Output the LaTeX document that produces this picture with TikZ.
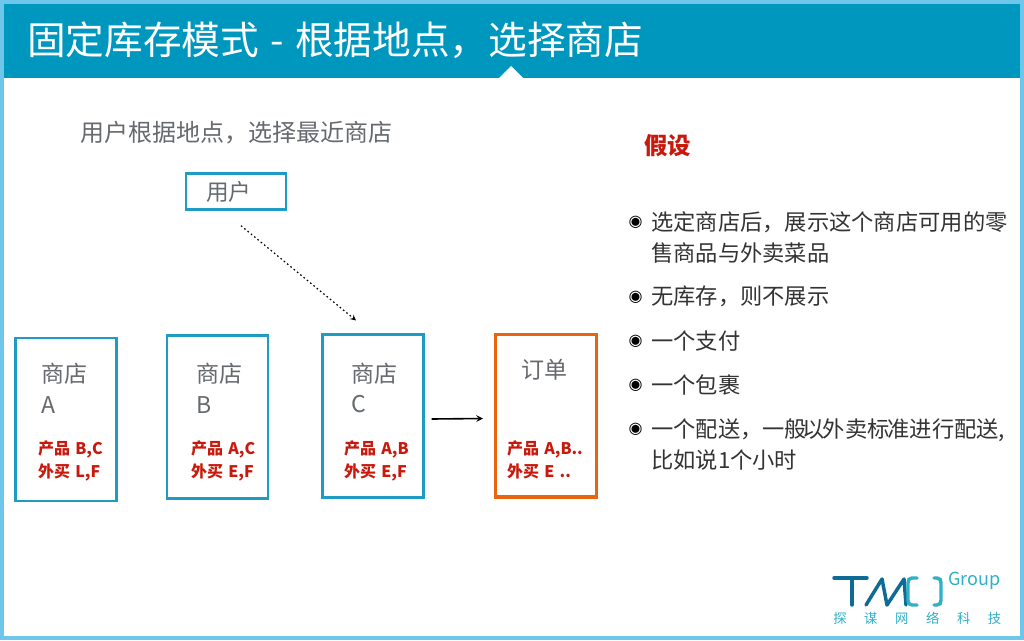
\documentclass[tikz,border=0pt]{standalone}
\usepackage{fontspec}
\setmainfont{Noto Sans CJK SC}
\newfontfamily\bulletfont{DejaVu Sans}
\usepackage{tikz}
\usetikzlibrary{arrows}
\definecolor{framecol}{HTML}{6EC6EA}
\definecolor{bandcol}{HTML}{0097BF}
\definecolor{boxcol}{HTML}{1E9CC3}
\definecolor{ordercol}{HTML}{E8640F}
\definecolor{redcol}{HTML}{C8190C}
\definecolor{textcol}{HTML}{666A6E}
\definecolor{logodark}{HTML}{0F6A94}
\definecolor{logolight}{HTML}{2FB0C8}
\tikzstyle{title} = [anchor=west, inner sep=0pt, text=white, font=\fontsize{29}{30}\selectfont]
\tikzstyle{caption} = [anchor=west, inner sep=0pt, text=textcol, font=\fontsize{18}{22}\selectfont]
\tikzstyle{userbox} = [rectangle, draw=boxcol, line width=1.8pt, text width=45pt, align=left, inner xsep=15pt, minimum height=27pt, inner ysep=0pt, text=textcol, font=\fontsize{17}{20}\selectfont]
\tikzstyle{storebox} = [rectangle, draw=boxcol, line width=1.8pt, minimum width=75.5pt, minimum height=122pt]
\tikzstyle{orderbox} = [rectangle, draw=ordercol, line width=2.5pt, minimum width=75.5pt, minimum height=122pt]
\tikzstyle{storename} = [text width=45pt, align=left, inner sep=0pt, text=textcol, font=\fontsize{17.3}{23}\selectfont]
\tikzstyle{goods} = [text width=52.5pt, align=left, inner sep=0pt, text=redcol, font=\bfseries\fontsize{12}{17.5}\selectfont, node distance=54.75pt]
\tikzstyle{heading} = [anchor=west, inner sep=0pt, text=redcol, font=\bfseries\fontsize{17.6}{20}\selectfont]
\tikzstyle{item} = [anchor=north west, align=left, inner sep=0pt, text=black!80, font=\fontsize{16.7}{23.25}\selectfont]
\tikzstyle{dot} = [inner sep=0pt, text=black, font=\bulletfont\fontsize{12}{12}\selectfont]
\tikzstyle{arrow} = [line width=1.2pt,->,>=stealth]
\begin{document}
\begin{tikzpicture}[x=0.75pt, y=-0.75pt]
\useasboundingbox (0,0) rectangle (1024,640);
\fill [framecol] (0,0) rectangle (1024,640);
\fill [white] (4,4) rectangle (1020,636);
\fill [bandcol] (4,4) rectangle (1020,78);
\fill [white] (498,79) -- (511,66) -- (524,79) -- cycle;

\node (title) [title] at (27,40)
	{固定库存模式\hspace{2pt} - \hspace{2pt}根据地点，选择商店};
\node (caption) [caption] at (80,133)
	{用户根据地点，选择最近商店};
\node (user) [userbox] at (236,191.5)
	{用户};

\node (storeA) [storebox] at (66,419.5) {};
\node (storeB) [storebox] at (217.5,417) {};
\node (storeC) [storebox] at (373,416) {};
\node (order) [orderbox] at (546,415.5) {};

\node (nameA) [storename] at (71,388)
	{商店\\A};
\node (nameB) [storename] at (226,388)
	{商店\\B};
\node (nameC) [storename] at (381,388)
	{商店\\C};
\node (nameO) [storename] at (551,370)
	{订单};

\node (goodsA) [goods, below of=nameA, xshift=1.5pt]
	{产品 B,C\\外买 L,F};
\node (goodsB) [goods, below of=nameB]
	{产品 A,C\\外买 E,F};
\node (goodsC) [goods, below of=nameC, xshift=-1.5pt]
	{产品 A,B\\外买 E,F};
\node (goodsO) [goods, below of=nameO, node distance=67.5pt, text width=62pt, xshift=-2pt]
	{产品 A,B..\\外买 E ..};

\draw [arrow, dotted, line width=0.9pt] ([shift={(5,15)}]user.south) -- ([shift={(-17,-13)}]storeC.north);
\draw [arrow] ([shift={(7,3)}]storeC.east) -- ([shift={(-11,3)}]order.west);

\node (assume) [heading] at (644,146)
	{假设};
\node (item1) [item] at (651,211)
	{选定商店后，展示这个商店可用的零\\售商品与外卖菜品};
\node (item2) [item] at (651,286)
	{无库存，则不展示};
\node (item3) [item] at (651,330)
	{一个支付};
\node (item4) [item] at (651,374)
	{一个包裹};
\node (item5) [item] at (651,418)
	{一个配送，一般\hspace{-3.5pt}以\hspace{-1.5pt}外卖标\hspace{-1.5pt}准进行配送,\\比如说1个小时};
\node (dot1) [dot] at (635.5,222.5) {◉};
\node (dot2) [dot] at (635.5,297.5) {◉};
\node (dot3) [dot] at (635.5,341.5) {◉};
\node (dot4) [dot] at (635.5,385.5) {◉};
\node (dot5) [dot] at (635.5,429.5) {◉};

% logo
\draw [logodark, line width=2.6pt, line cap=round, line join=round] (834,578) -- (867,578) (852,578) -- (852,605);
\draw [logodark, line width=2.6pt, line cap=round, line join=round] (866,605) -- (882,579) -- (887,605) -- (904,579) -- (906,605);
\draw [logolight, line width=2.6pt, line cap=round] (917,578) -- (912,578) .. controls (909,578) and (908,580) .. (908,583) -- (908,600) .. controls (908,603) and (909,605) .. (912,605) -- (917,605);
\draw [logolight, line width=2.6pt, line cap=round] (934,578) -- (937,578) .. controls (940,578) and (941,580) .. (941,583) -- (941,600) .. controls (941,603) and (940,605) .. (937,605) -- (934,605);
\node (group) [anchor=west, inner sep=0pt, text=logolight, font=\fontsize{13.5}{14}\selectfont] at (948,581)
	{Group};
\node (company) [anchor=west, inner sep=0pt, text width=126pt, text=logolight, font=\fontsize{10}{11}\selectfont] at (833,618)
	{探\hfill 谋\hfill 网\hfill 络\hfill 科\hfill 技};
\end{tikzpicture}
\end{document}
